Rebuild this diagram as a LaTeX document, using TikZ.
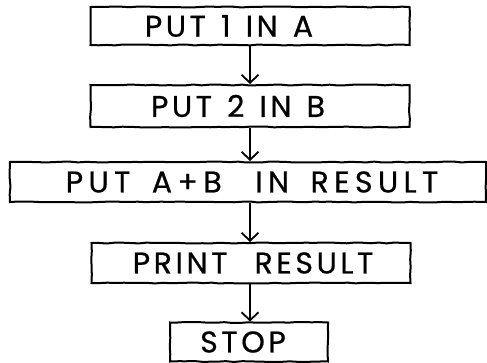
\documentclass[tikz,border=0pt]{standalone}
\usepackage{fontspec}
\newfontfamily\handfont{Poppins}[LetterSpace=12,WordSpace=1.3,FakeBold=0.6]
\newfontfamily\widehand{Poppins}[LetterSpace=18,WordSpace=1.6,FakeBold=0.6]
\usetikzlibrary{arrows.meta,decorations.pathmorphing}

\begin{document}
\begin{tikzpicture}[x=1pt, y=-1pt,
    stepbox/.style={draw, line width=2pt, inner sep=0pt, minimum height=40pt,
      decorate, decoration={random steps, segment length=8pt, amplitude=0.5pt}},
    flow/.style={draw, line width=1.8pt, -{Straight Barb[length=8pt,width=17pt]}},
    every label/.style={font=\handfont\fontsize{30}{30}\selectfont}]
  \pgfmathsetseed{42}
  \useasboundingbox (0,0) rectangle (487,363);
  % the five steps of the program
  \node[stepbox, minimum width=319pt, minimum height=38pt,
        label={[xshift=-21pt]center:PUT 1 IN A}] (put1) at (250,26) {};
  \node[stepbox, minimum width=319pt, minimum height=42pt,
        label={[xshift=-12pt]center:PUT 2 IN B}] (put2) at (250,106) {};
  \node[stepbox, minimum width=476pt,
        label={[xshift=4pt, font=\widehand\fontsize{30}{30}\selectfont]
          center:PUT A+B\hspace{12pt} IN RESULT}] (sum) at (248,182) {};
  \node[stepbox, minimum width=319pt,
        label={[xshift=2pt]center:PRINT\hspace{12pt} RESULT}] (print) at (251,263) {};
  \node[stepbox, minimum width=158pt, minimum height=39pt,
        label={[xshift=-6pt]center:STOP}] (stop) at (249,342) {};
  % arrows between the steps
  \draw[flow] (put1.south) -- (put1.south |- put2.north);
  \draw[flow] (put2.south) -- (put2.south |- sum.north);
  \draw[flow] (put2.south |- sum.south) -- (put2.south |- print.north);
  \draw[flow] (put2.south |- print.south) -- (put2.south |- stop.north);
\end{tikzpicture}
\end{document}
